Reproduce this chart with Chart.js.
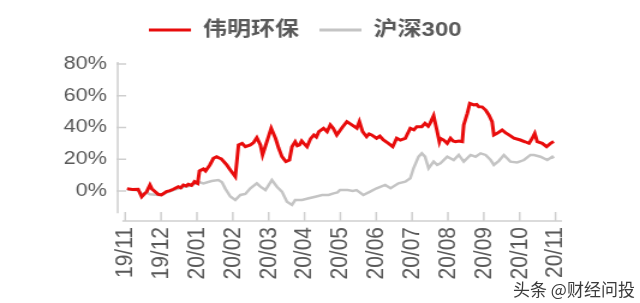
<!DOCTYPE html>
<html>
<head>
<meta charset="utf-8">
<script src="https://cdn.jsdelivr.net/npm/chart.js@4.4.0/dist/chart.umd.min.js"></script>
<style>
    html, body { margin: 0; padding: 0; background: #fff; }
    #wrap { position: relative; width: 640px; height: 303px; overflow: hidden; }
    /* source picture is stretched horizontally, so draw narrow and widen */
    #stretch { width: 533px; height: 303px; transform: scaleX(1.2008); transform-origin: 0 0; }
    #mark {
        position: absolute; left: 513px; top: 276px;
        font: 17px "Noto Sans CJK SC", sans-serif; color: #3a3a3a;
        text-shadow: 0 0 2px #fff; white-space: nowrap;
    }
</style>
</head>
<body>
<div id="wrap">
    <div id="stretch"><canvas id="chart" width="533" height="303"></canvas></div>
    <div id="mark">头条 @财经问投</div>
</div>
<script>
// month ticks (x = months since 2019/11)
const monthLabels = ['19/11', '19/12', '20/01', '20/02', '20/03', '20/04', '20/05',
    '20/06', '20/07', '20/08', '20/09', '20/10', '20/11'];
const yTicks = [0, 20, 40, 60, 80];

// 伟明环保 cumulative return, %
const weimingX = [0.05, 0.2, 0.36, 0.46, 0.55, 0.6, 0.69, 0.74, 0.78, 0.92, 1.01, 1.15, 1.25, 1.34,
    1.48, 1.55, 1.62, 1.7, 1.76, 1.85, 1.93, 2.02, 2.07, 2.18, 2.24, 2.36, 2.46, 2.55, 2.62, 2.68,
    2.83, 2.93, 3.07, 3.16, 3.26, 3.35, 3.49, 3.58, 3.67, 3.77, 3.83, 3.95, 4.07, 4.19, 4.28, 4.37,
    4.48, 4.58, 4.65, 4.74, 4.8, 4.86, 4.92, 4.98, 5.07, 5.17, 5.26, 5.33, 5.4, 5.53, 5.63, 5.72,
    5.8, 5.9, 6.05, 6.18, 6.32, 6.46, 6.53, 6.62, 6.73, 6.8, 6.87, 7.01, 7.1, 7.2, 7.34, 7.46,
    7.57, 7.67, 7.81, 7.95, 8.05, 8.13, 8.27, 8.36, 8.45, 8.5, 8.6, 8.69, 8.76, 8.79, 8.88, 8.98,
    9.07, 9.14, 9.21, 9.3, 9.4, 9.44, 9.54, 9.61, 9.72, 9.8, 9.86, 9.95, 10.05, 10.14, 10.23, 10.28,
    10.37, 10.51, 10.6, 10.7, 10.84, 11.02, 11.15, 11.26, 11.35, 11.42, 11.49, 11.63, 11.75, 11.86, 11.95];
const weimingY = [1.5, 1.0, 1.1, -3.6, -1.5, -0.4, 3.8, 1.5, 0.6, -2.1, -2.5, -0.4, 0.2, 1.1,
    2.7, 2.0, 3.8, 3.2, 4.2, 3.5, 5.9, 4.8, 12.6, 13.9, 12.6, 16.4, 20.6, 21.6, 20.8, 20.2,
    16.4, 13.2, 9.0, 29.0, 30.0, 27.9, 29.0, 30.5, 33.6, 29.0, 22.7, 31.1, 39.5, 33.2, 26.9, 21.6,
    18.5, 19.5, 27.9, 31.1, 28.5, 29.0, 31.5, 30.0, 27.9, 33.0, 35.3, 34.0, 37.4, 39.5, 37.4, 41.6,
    39.5, 35.3, 40.0, 43.7, 41.6, 39.5, 43.7, 37.4, 34.2, 36.0, 35.3, 33.2, 34.5, 32.1, 30.0, 27.9,
    33.2, 32.1, 33.2, 39.5, 38.5, 40.5, 40.5, 42.6, 40.8, 42.6, 47.4, 38.4, 31.1, 33.2, 32.1, 30.0,
    33.2, 31.5, 31.1, 31.5, 31.1, 41.6, 48.9, 55.2, 54.2, 54.5, 53.1, 53.0, 51.0, 47.9, 43.7, 35.3,
    36.3, 38.4, 36.8, 35.3, 33.2, 32.1, 31.0, 30.0, 33.2, 36.3, 31.1, 30.0, 27.9, 30.0, 31.1];

// 沪深300 cumulative return, %
const hs300X = [0.05, 0.36, 0.46, 0.6, 0.69, 0.92, 1.01, 1.15, 1.34, 1.48, 1.62, 1.76, 1.93, 2.08,
    2.18, 2.41, 2.6, 2.7, 2.79, 2.93, 3.07, 3.21, 3.35, 3.49, 3.67, 3.77, 3.91, 4.09, 4.23, 4.37,
    4.51, 4.65, 4.74, 4.93, 5.12, 5.3, 5.49, 5.67, 5.81, 5.92, 5.99, 6.2, 6.35, 6.45, 6.64, 6.83,
    7.01, 7.25, 7.4, 7.62, 7.81, 7.95, 8.04, 8.18, 8.27, 8.36, 8.46, 8.6, 8.7, 8.79, 8.98, 9.16,
    9.3, 9.44, 9.63, 9.77, 9.91, 10.05, 10.19, 10.28, 10.42, 10.56, 10.74, 10.93, 11.12, 11.3,
    11.4, 11.58, 11.77, 11.91, 11.95];
const hs300Y = [1.0, 0.5, -2.0, -1.0, -2.1, -2.5, -2.5, -1.0, 0.5, 1.5, 2.5, 3.0, 4.5, 5.5,
    4.8, 6.3, 6.9, 5.5, 1.5, -3.5, -5.7, -2.5, -1.9, 1.7, 4.8, 2.7, 0.6, 6.9, 2.7, -0.4,
    -6.7, -8.8, -5.7, -5.7, -4.6, -3.6, -2.5, -2.5, -1.5, -0.9, 0.6, 0.6, 0.0, 0.6, -2.5, -0.4,
    1.7, 3.8, 1.7, 4.8, 5.9, 8.0, 14.3, 21.6, 23.7, 21.6, 14.3, 18.5, 16.4, 17.4, 21.6, 19.5,
    22.7, 18.5, 22.7, 21.6, 23.7, 22.7, 19.5, 16.4, 19.0, 22.7, 18.5, 18.0, 19.5, 22.7,
    22.7, 21.6, 19.5, 21.6, 20.6];

const redColor = '#E80C0C';
const grayColor = '#C4C4C4';
const axisColor = '#CFCFCF';
const textColor = '#595959';

const toPoints = (xs, ys) => xs.map((x, i) => ({ x: x, y: ys[i] }));

// short inward tick marks and axis lines, placed from the scales
const axisMarks = {
    id: 'axisMarks',
    beforeDatasetsDraw(chart) {
        const { ctx, chartArea, scales: { x, y } } = chart;
        ctx.save();
        ctx.strokeStyle = axisColor;
        ctx.lineWidth = 1.5;
        ctx.beginPath();
        const ax = chartArea.left;
        ctx.moveTo(ax, y.getPixelForValue(81.3));
        ctx.lineTo(ax, y.getPixelForValue(-14));
        y.ticks.forEach(t => {
            const py = y.getPixelForValue(t.value);
            ctx.moveTo(ax - 1, py);
            ctx.lineTo(ax + 7, py);
        });
        const ay = chartArea.bottom;
        ctx.moveTo(x.getPixelForValue(-0.08), ay);
        ctx.lineTo(x.getPixelForValue(12.18), ay);
        x.ticks.forEach(t => {
            const px = x.getPixelForValue(t.value);
            ctx.moveTo(px, ay - 9);
            ctx.lineTo(px, ay);
        });
        ctx.stroke();
        ctx.restore();
    }
};

new Chart(document.getElementById('chart'), {
    type: 'line',
    data: {
        datasets: [{
            label: '伟明环保',
            data: toPoints(weimingX, weimingY),
            borderColor: redColor,
            backgroundColor: redColor,
            borderWidth: 3,
            pointRadius: 0,
            tension: 0
        }, {
            label: '沪深300',
            data: toPoints(hs300X, hs300Y),
            borderColor: grayColor,
            backgroundColor: grayColor,
            borderWidth: 2.5,
            pointRadius: 0,
            tension: 0
        }]
    },
    options: {
        responsive: false,
        animation: false,
        layout: {
            padding: { top: 3, left: 40.4, right: 65, bottom: 0 }
        },
        plugins: {
            tooltip: { enabled: false },
            legend: {
                display: true,
                position: 'top',
                labels: {
                    boxWidth: 35,
                    boxHeight: 3,
                    padding: 17,
                    color: textColor,
                    font: { family: '"Liberation Sans", "Noto Sans CJK SC", sans-serif', size: 20, weight: 'bold' },
                    generateLabels: (chart) => Chart.defaults.plugins.legend.labels.generateLabels(chart)
                        .map(item => ({ ...item, lineWidth: 0 }))
                }
            }
        },
        scales: {
            x: {
                type: 'linear',
                min: -0.21,
                max: 12.18,
                grid: { display: false, drawTicks: false },
                border: { display: false },
                afterBuildTicks: (scale) => {
                    scale.ticks = monthLabels.map((_, i) => ({ value: i }));
                },
                afterFit: (scale) => { scale.height = 82; },
                ticks: {
                    autoSkip: false,
                    minRotation: 90,
                    maxRotation: 90,
                    padding: 6,
                    color: textColor,
                    font: { family: '"Liberation Sans", Arial, sans-serif', size: 21 },
                    callback: (value) => monthLabels[value]
                }
            },
            y: {
                min: -18.9,
                max: 88.8,
                grid: { display: false, drawTicks: false },
                border: { display: false },
                afterBuildTicks: (scale) => {
                    scale.ticks = yTicks.map(v => ({ value: v }));
                },
                afterFit: (scale) => { scale.width = 57.6; },
                ticks: {
                    padding: 9,
                    color: textColor,
                    font: { family: '"Liberation Sans", Arial, sans-serif', size: 18 },
                    callback: (value) => value + '%'
                }
            }
        }
    },
    plugins: [axisMarks]
});
</script>
</body>
</html>
